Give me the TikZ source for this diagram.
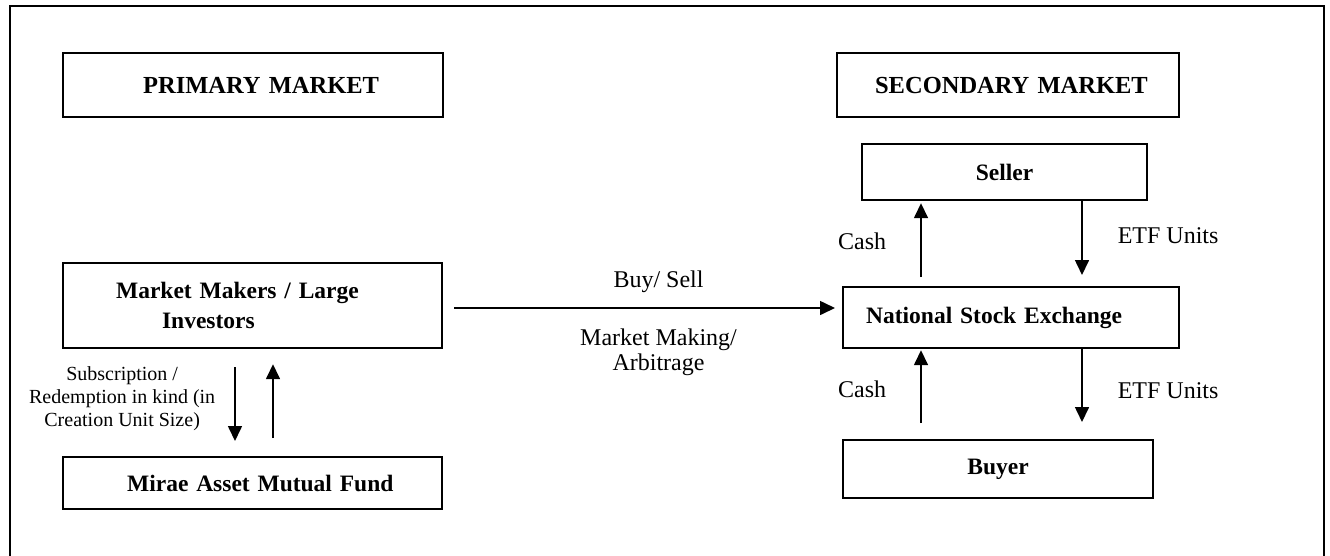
\documentclass[tikz,border=0pt]{standalone}
\usepackage{fontspec}
\setmainfont{Liberation Serif}
\usetikzlibrary{arrows.meta}

\begin{document}
\begin{tikzpicture}[x=1pt, y=-1pt,
	>={Triangle[length=15pt,width=14pt]},
	mbox/.style={draw, line width=2.2pt, inner sep=0pt, anchor=north west, align=left,
		font=\bfseries\fontsize{23.5}{30}\selectfont},
	headbox/.style={mbox, font=\bfseries\fontsize{24.5}{30}\selectfont},
	lbl/.style={inner sep=0pt, align=center, font=\fontsize{24}{25}\selectfont},
	flow/.style={line width=1.6pt}]
	\useasboundingbox (0,0) rectangle (1330,555);
	\draw[line width=2.6pt] (10,600) -- (10,6) -- (1324,6) -- (1324,600);
	% primary side
	\node[headbox, text width=380pt, minimum height=64pt] (primary) at (62,52) {\hspace*{80pt}PRIMARY MARKET};
	\node[mbox, text width=379pt, minimum height=85pt] (makers) at (62,262)
		{\hspace*{53pt}Market Makers / Large\\\hspace*{99pt}Investors};
	\node[mbox, text width=379pt, minimum height=52pt] (mirae) at (62,456) {\hspace*{64pt}Mirae Asset Mutual Fund};
	% secondary side
	\node[headbox, text width=342pt, minimum height=64pt] (secondary) at (836,52) {\hspace*{38pt}SECONDARY MARKET};
	\node[mbox, text width=285pt, minimum height=56pt, align=center] (seller) at (861,143) {Seller};
	\node[mbox, text width=336pt, minimum height=61pt] (nse) at (842,286) {\hspace*{23pt}National Stock Exchange};
	\node[mbox, text width=310pt, minimum height=58pt, align=center] (buyer) at (842,439) {Buyer};
	\coordinate (subx) at (235,0);
	\coordinate (redx) at (273,0);
	\coordinate (cashx) at (921,0);
	\coordinate (etfx) at (1082,0);
	\coordinate (flowy) at (0,308);
	\path[->]
	(makers.east |- flowy) edge[flow, shorten <=11pt, shorten >=7pt]
		node[lbl, above=15pt, pos=0.54]{Buy/ Sell}
		node[lbl, below=20pt, pos=0.54]{Market Making/\\Arbitrage} (nse.west |- flowy)
	(makers.south -| subx) edge[flow, shorten <=18pt, shorten >=15pt]
		node[lbl, left=19pt, pos=0.46, font=\fontsize{20}{23}\selectfont]{Subscription /\\Redemption in kind (in\\Creation Unit Size)} (mirae.north -| subx)
	(mirae.north -| redx) edge[flow, shorten <=18pt, shorten >=15pt] (makers.south -| redx)
	(nse.north -| cashx) edge[flow, shorten <=9pt, shorten >=2pt] node[lbl, left=34pt, pos=0.53]{Cash} (seller.south -| cashx)
	(seller.south -| etfx) edge[flow, shorten >=11pt] node[lbl, right=35pt, pos=0.41]{ETF Units} (nse.north -| etfx)
	(buyer.north -| cashx) edge[flow, shorten <=16pt, shorten >=1pt] node[lbl, left=34pt, pos=0.55]{Cash} (nse.south -| cashx)
	(nse.south -| etfx) edge[flow, shorten >=17pt] node[lbl, right=35pt, pos=0.46]{ETF Units} (buyer.north -| etfx);
\end{tikzpicture}
\end{document}
